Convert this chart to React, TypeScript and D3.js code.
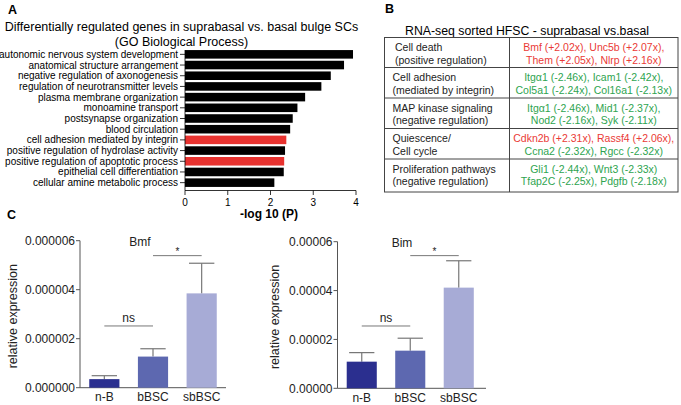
import React from "react";
import * as d3 from "d3";

const goTerms = [
  "autonomic nervous system development",
  "anatomical structure arrangement",
  "negative regulation of axonogenesis",
  "regulation of neurotransmitter levels",
  "plasma membrane organization",
  "monoamine transport",
  "postsynapse organization",
  "blood circulation",
  "cell adhesion mediated by integrin",
  "positive regulation of hydrolase activity",
  "positive regulation of apoptotic process",
  "epithelial cell differentiation",
  "cellular amine metabolic process",
];
const goValues = [3.93, 3.72, 3.41, 3.19, 2.81, 2.63, 2.52, 2.46, 2.37, 2.34, 2.32, 2.31, 2.09];
const goHighlight = [false, false, false, false, false, false, false, false, true, false, true, false, false];
const goTicks = [0, 1, 2, 3, 4];

const tableLeft = [
  ["Cell death", "(positive regulation)"],
  ["Cell adhesion", "(mediated by integrin)"],
  ["MAP kinase signaling", "(negative regulation)"],
  ["Quiescence/", "Cell cycle"],
  ["Proliferation  pathways", "(negative regulation)"],
];
const tableRight = [
  [["Bmf (+2.02x), Unc5b (+2.07x),", "up"], ["Them (+2.05x), Nlrp (+2.16x)", "up"]],
  [["Itgα1 (-2.46x), Icam1 (-2.42x),", "down"], ["Col5a1 (-2.24x), Col16a1 (-2.13x)", "down"]],
  [["Itgα1 (-2.46x), Mid1 (-2.37x),", "down"], ["Nod2 (-2.16x), Syk (-2.11x)", "down"]],
  [["Cdkn2b (+2.31x), Rassf4 (+2.06x),", "up"], ["Ccna2 (-2.32x), Rgcc (-2.32x)", "down"]],
  [["Gli1 (-2.44x), Wnt3 (-2.33x)", "down"], ["Tfap2C (-2.25x), Pdgfb (-2.18x)", "down"]],
];

const groups = ["n-B", "bBSC", "sbBSC"];
const bmfMeans = [0.35e-6, 1.27e-6, 3.85e-6];
const bmfErr = [0.49e-6, 1.59e-6, 5.08e-6];
const bmfTicks = [0, 2e-6, 4e-6, 6e-6];
const bmfSig = [
  { a: 0, b: 1, y: 2.52e-6, label: "ns" },
  { a: 1, b: 2, y: 5.39e-6, label: "*" },
];
const bimMeans = [1.09e-5, 1.54e-5, 4.12e-5];
const bimErr = [1.46e-5, 2.05e-5, 5.22e-5];
const bimTicks = [0, 2e-5, 4e-5, 6e-5];
const bimSig = [
  { a: 0, b: 1, y: 2.55e-5, label: "ns" },
  { a: 1, b: 2, y: 5.43e-5, label: "*" },
];

const FONT = "'Liberation Sans', Arial, Helvetica, sans-serif";
const barColors = ["#2b2f8f", "#5d68b0", "#a7abd6"];

function PanelA() {
  const x = d3.scaleLinear().domain([0, 4]).range([185, 356]);
  const y = d3.scaleBand().domain(goTerms).range([49, 188]).paddingInner(0.2).paddingOuter(0.1);
  return (
    <g fontFamily={FONT}>
      <text x={8} y={14} fontSize={12.5} fontWeight="bold">A</text>
      <text x={181.5} y={30.5} fontSize={12.5} textAnchor="middle">
        Differentially regulated genes in suprabasal vs. basal bulge SCs
      </text>
      <text x={181.5} y={45.5} fontSize={12.5} textAnchor="middle">(GO Biological Process)</text>
      {goTerms.map((t, i) => (
        <g key={t}>
          <rect
            x={x(0)}
            y={y(t)!}
            width={x(goValues[i]) - x(0)}
            height={y.bandwidth()}
            fill={goHighlight[i] ? "#e8322f" : "#000"}
          />
          <line x1={x(0) - 5} x2={x(0)} y1={y(t)! + y.bandwidth() / 2} y2={y(t)! + y.bandwidth() / 2} stroke="#000" strokeWidth={0.8} />
          <text x={x(0) - 7} y={y(t)! + y.bandwidth() / 2} dy="0.35em" fontSize={10} textAnchor="end">
            {t}
          </text>
        </g>
      ))}
      <line x1={x(0)} x2={x(0)} y1={50} y2={190.5} stroke="#000" strokeWidth={0.8} />
      <line x1={x(0)} x2={x(4)} y1={190.5} y2={190.5} stroke="#000" strokeWidth={0.8} />
      {goTicks.map((tk) => (
        <g key={tk}>
          <line x1={x(tk)} x2={x(tk)} y1={190.5} y2={195} stroke="#000" strokeWidth={0.8} />
          <text x={x(tk)} y={206} fontSize={10} textAnchor="middle">{tk}</text>
        </g>
      ))}
      <text x={269} y={217.5} fontSize={12} fontWeight="bold" textAnchor="middle">-log 10 (P)</text>
    </g>
  );
}

function PanelB() {
  const rows = [37.5, 67.5, 98, 128.5, 159, 192];
  const xl = 384.5, xm = 509.5, xr = 678;
  return (
    <g fontFamily={FONT}>
      <text x={385} y={13} fontSize={12.5} fontWeight="bold">B</text>
      <text x={527} y={34.5} fontSize={12.3} textAnchor="middle">RNA-seq sorted HFSC - suprabasal vs.basal</text>
      <rect x={xl} y={rows[0]} width={xr - xl} height={rows[5] - rows[0]} fill="none" stroke="#444" strokeWidth={1} />
      <line x1={xm} x2={xm} y1={rows[0]} y2={rows[5]} stroke="#444" strokeWidth={1} />
      {rows.slice(1, 5).map((r) => (
        <line key={r} x1={xl} x2={xr} y1={r} y2={r} stroke="#444" strokeWidth={1} />
      ))}
      {tableLeft.map((lines, i) => (
        <g key={i}>
          {lines.map((l, j) => (
            <text key={j} x={i === 0 ? 395 : 392.5} y={rows[i] + 10 + j * 12.7} dy="0.35em" fontSize={10.5} fill="#222">
              {l}
            </text>
          ))}
        </g>
      ))}
      {tableRight.map((lines, i) => (
        <g key={i}>
          {lines.map((l, j) => (
            <text
              key={j}
              x={(xm + xr) / 2}
              y={rows[i] + 10 + j * 12.7}
              dy="0.35em"
              fontSize={10.5}
              textAnchor="middle"
              fill={l[1] === "up" ? "#ea3a36" : "#2ea44f"}
            >
              {l[0]}
            </text>
          ))}
        </g>
      ))}
    </g>
  );
}

function BarPanel(props: {
  title: string;
  titleX: number;
  axisX: number;
  xEnd: number;
  bandRange: [number, number];
  yRange: [number, number];
  yMax: number;
  ticks: number[];
  digits: number;
  means: number[];
  errs: number[];
  sig: { a: number; b: number; y: number; label: string }[];
  labelX: number;
}) {
  const { axisX, xEnd, bandRange, yRange, yMax, ticks, digits, means, errs, sig } = props;
  const y = d3.scaleLinear().domain([0, yMax]).range(yRange);
  const x = d3.scaleBand().domain(groups).range(bandRange).paddingInner(0.38).paddingOuter(0.19);
  const bw = x.bandwidth();
  const cx = (i: number) => x(groups[i])! + bw / 2;
  const axisColor = "#555";
  const labelY = (yRange[0] + yRange[1]) / 2 + 2;
  return (
    <g fontFamily={FONT}>
      <line x1={axisX} x2={axisX} y1={yRange[1]} y2={yRange[0]} stroke={axisColor} strokeWidth={1} />
      <line x1={axisX} x2={xEnd} y1={yRange[0]} y2={yRange[0]} stroke={axisColor} strokeWidth={1} />
      {ticks.map((t) => (
        <g key={t}>
          <line x1={axisX - 4} x2={axisX} y1={y(t)} y2={y(t)} stroke={axisColor} strokeWidth={1} />
          <text x={axisX - 5} y={y(t)} dy="0.35em" fontSize={12} textAnchor="end" fill="#222">
            {t.toFixed(digits)}
          </text>
        </g>
      ))}
      <text
        transform={`translate(${props.labelX},${labelY}) rotate(-90)`}
        fontSize={12.5}
        textAnchor="middle"
        fill="#222"
      >
        relative expression
      </text>
      <text x={props.titleX} y={y(yMax) + 5} fontSize={12} textAnchor="middle" fill="#222">{props.title}</text>
      {groups.map((g, i) => (
        <g key={g}>
          <line x1={cx(i)} x2={cx(i)} y1={y(means[i])} y2={y(errs[i])} stroke="#777" strokeWidth={1.2} />
          <line x1={cx(i) - bw * 0.42} x2={cx(i) + bw * 0.42} y1={y(errs[i])} y2={y(errs[i])} stroke="#777" strokeWidth={1.2} />
          <rect x={x(g)!} y={y(means[i])} width={bw} height={y(0) - y(means[i])} fill={barColors[i]} />
          <text x={cx(i)} y={yRange[0] + 13.5} fontSize={12} textAnchor="middle" fill="#222">{g}</text>
        </g>
      ))}
      {sig.map((s, k) => (
        <g key={k}>
          <line x1={cx(s.a)} x2={cx(s.b)} y1={y(s.y)} y2={y(s.y)} stroke="#777" strokeWidth={1} />
          <text
            x={(cx(s.a) + cx(s.b)) / 2}
            y={y(s.y) - (s.label === "*" ? 1 : 4)}
            fontSize={s.label === "*" ? 10 : 12}
            textAnchor="middle"
            fill="#222"
          >
            {s.label}
          </text>
        </g>
      ))}
    </g>
  );
}

export default function App() {
  return (
    <svg width={681} height={405} style={{ position: "absolute", left: 0, top: 0, background: "#fff" }}>
      <rect width={681} height={405} fill="#fff" />
      <PanelA />
      <PanelB />
      <text x={7} y={219} fontSize={12.5} fontWeight="bold" fontFamily={FONT}>C</text>
      <BarPanel
        title="Bmf"
        titleX={140}
        axisX={80}
        xEnd={226}
        bandRange={[80, 226]}
        yRange={[387.7, 240.7]}
        yMax={6e-6}
        ticks={bmfTicks}
        digits={6}
        means={bmfMeans}
        errs={bmfErr}
        sig={bmfSig}
        labelX={16.5}
      />
      <BarPanel
        title="Bim"
        titleX={402}
        axisX={337.5}
        xEnd={486}
        bandRange={[337.5, 483]}
        yRange={[388.3, 241.7]}
        yMax={6e-5}
        ticks={bimTicks}
        digits={5}
        means={bimMeans}
        errs={bimErr}
        sig={bimSig}
        labelX={279}
      />
    </svg>
  );
}
